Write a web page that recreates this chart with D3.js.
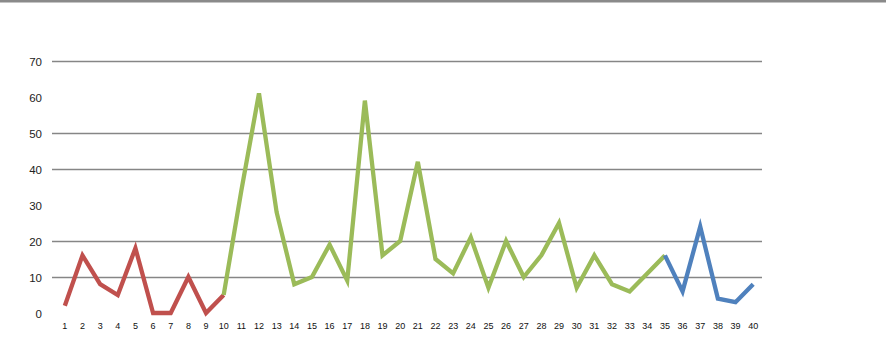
<!DOCTYPE html>
<html>
<head>
<meta charset="utf-8">
<script src="https://cdn.jsdelivr.net/npm/d3@7"></script>
<style>
  body { margin: 0; background: #fff; }
  svg { display: block; }
  .ylab { font-family: "Liberation Sans", Arial, sans-serif; font-size: 11.5px; fill: #222; }
  .xlab { font-family: "Liberation Sans", Arial, sans-serif; font-size: 9px; fill: #111; }
</style>
</head>
<body>
<svg id="chart"></svg>
<script>
// x categories 1..40
var categories = ["1","2","3","4","5","6","7","8","9","10",
    "11","12","13","14","15","16","17","18","19","20",
    "21","22","23","24","25","26","27","28","29","30",
    "31","32","33","34","35","36","37","38","39","40"];

var values = [2, 16, 8, 5, 18, 0, 0, 10, 0, 5,
    34, 61, 28, 8, 10, 19, 9, 59, 16, 20,
    42, 15, 11, 21, 7, 20, 10, 16, 25, 7,
    16, 8, 6, 11, 16, 6, 24, 4, 3, 8];

// which part of the line gets which colour (category labels, inclusive)
var segFrom = ["1", "10", "35"];
var segTo = ["10", "35", "40"];
var segColors = ["#c0504d", "#9bbb59", "#4f81bd"];

var yTicks = [0, 10, 20, 30, 40, 50, 60, 70];
var gridTicks = [10, 20, 40, 50, 70];

var w = 886, h = 351;
var margin = { top: 61, right: 124, bottom: 38, left: 56 };

var svg = d3.select("#chart").attr("width", w).attr("height", h);

// grey strip along the top edge
svg.append("rect").attr("x", 0).attr("y", 0).attr("width", w).attr("height", 2.5).attr("fill", "#8a8a8a");

var x = d3.scaleBand().domain(categories).range([margin.left, w - margin.right]);
var y = d3.scaleLinear().domain([0, 70]).range([h - margin.bottom, margin.top]);

var grid = svg.append("g")
    .attr("transform", "translate(" + (margin.left - 4) + ",0)")
    .call(d3.axisLeft(y).tickValues(gridTicks).tickSize(-(w - margin.right - margin.left + 4)).tickFormat(""));
grid.select(".domain").remove();
grid.selectAll("line").attr("stroke", "#868686").attr("stroke-width", 1.3);

var yAxis = svg.append("g")
    .attr("transform", "translate(" + (margin.left - 14) + ",0)")
    .call(d3.axisLeft(y).tickValues(yTicks).tickSize(0).tickPadding(0));
yAxis.select(".domain").remove();
yAxis.selectAll("text").attr("class", "ylab").attr("font-family", null).attr("font-size", null).attr("fill", null).attr("dy", "0.36em");

var xAxis = svg.append("g")
    .attr("transform", "translate(0," + (h - margin.bottom + 10) + ")")
    .call(d3.axisBottom(x).tickSize(0).tickPadding(0));
xAxis.select(".domain").remove();
xAxis.selectAll("text").attr("class", "xlab").attr("font-family", null).attr("font-size", null).attr("fill", null);

var line = d3.line()
    .x(function(d) { return x(d.c) + x.bandwidth() / 2; })
    .y(function(d) { return y(d.v); });

var pts = categories.map(function(c, i) { return { c: c, v: values[i] }; });

segColors.forEach(function(col, k) {
    var a = categories.indexOf(segFrom[k]), b = categories.indexOf(segTo[k]);
    svg.append("path")
        .datum(pts.slice(a, b + 1))
        .attr("fill", "none")
        .attr("stroke", col)
        .attr("stroke-width", 4.3)
        .attr("stroke-linejoin", "miter")
        .attr("d", line);
});
</script>
</body>
</html>
